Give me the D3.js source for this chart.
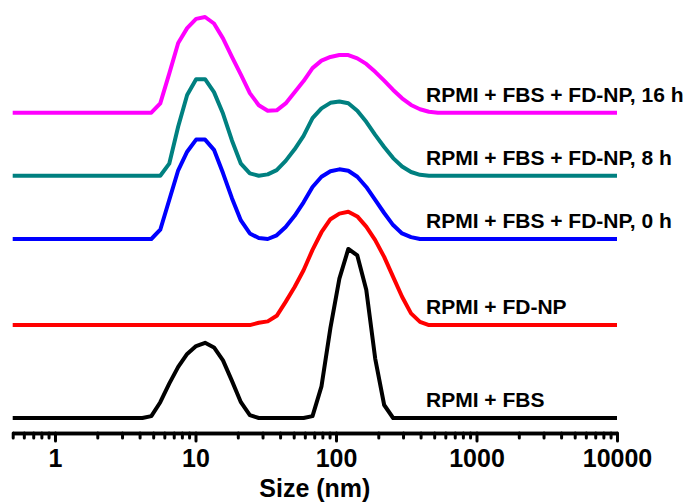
<!DOCTYPE html>
<html>
<head>
<meta charset="utf-8">
<script src="https://cdn.jsdelivr.net/npm/d3@7"></script>
<style>
  body { margin: 0; background: #fff; }
  text { font-family: Arial, "Liberation Sans", sans-serif; font-weight: bold; fill: #000; }
</style>
</head>
<body>
<svg id="chart" width="689" height="504"></svg>
<script>
// Zetasizer size bins (nm)
const sizes = [0.4, 0.4632, 0.5365, 0.6213, 0.7195, 0.8332, 0.9649, 1.117, 1.294, 1.499,
  1.736, 2.01, 2.328, 2.696, 3.122, 3.615, 4.187, 4.849, 5.615, 6.503,
  7.531, 8.721, 10.1, 11.7, 13.54, 15.69, 18.17, 21.04, 24.36, 28.21,
  32.67, 37.84, 43.82, 50.75, 58.77, 68.06, 78.82, 91.28, 105.7, 122.4,
  141.8, 164.2, 190.1, 220.2, 255.0, 295.3, 342.0, 396.1, 458.7, 531.2,
  615.1, 712.4, 825.0, 955.4, 1106, 1281, 1484, 1718, 1990, 2305,
  2669, 3091, 3580, 4145, 4801, 5560, 6439, 7456, 8635, 10000];

// intensity (%) per bin, one array per sample
const rpmiFbs = [0, 0, 0, 0, 0, 0, 0, 0, 0, 0,
  0, 0, 0, 0, 0, 0, 0, 0.2, 1.7, 3.7,
  5.5, 6.9, 7.75, 8.1, 7.6, 6.2, 4.0, 1.7, 0.3, 0,
  0, 0, 0, 0, 0, 0.2, 3.4, 9.7, 15.0, 18.2,
  17.5, 13.8, 6.4, 1.4, 0, 0, 0, 0, 0, 0,
  0, 0, 0, 0, 0, 0, 0, 0, 0, 0,
  0, 0, 0, 0, 0, 0, 0, 0, 0, 0];
const rpmiFdnp = [0, 0, 0, 0, 0, 0, 0, 0, 0, 0,
  0, 0, 0, 0, 0, 0, 0, 0, 0, 0,
  0, 0, 0, 0, 0, 0, 0, 0, 0, 0.25,
  0.4, 1.0, 2.5, 4.1, 5.9, 8.1, 10.0, 11.4, 12.0, 12.2,
  11.7, 10.6, 9.15, 7.35, 5.2, 3.05, 1.26, 0.35, 0, 0,
  0, 0, 0, 0, 0, 0, 0, 0, 0, 0,
  0, 0, 0, 0, 0, 0, 0, 0, 0, 0];
const fdnp0h = [0, 0, 0, 0, 0, 0, 0, 0, 0, 0,
  0, 0, 0, 0, 0, 0, 0, 0, 1.0, 4.2,
  7.4, 9.4, 10.7, 10.7, 9.6, 7.1, 4.4, 2.0, 0.6, 0.1,
  0, 0.4, 1.3, 2.5, 3.95, 5.6, 6.7, 7.3, 7.5, 7.35,
  6.7, 5.6, 4.2, 2.8, 1.5, 0.6, 0.2, 0, 0, 0,
  0, 0, 0, 0, 0, 0, 0, 0, 0, 0,
  0, 0, 0, 0, 0, 0, 0, 0, 0, 0];
const fdnp8h = [0, 0, 0, 0, 0, 0, 0, 0, 0, 0,
  0, 0, 0, 0, 0, 0, 0, 0, 0, 1.3,
  5.3, 8.7, 10.4, 10.4, 9.0, 6.7, 3.8, 1.3, 0.25, 0,
  0.15, 0.6, 1.6, 2.85, 4.3, 6.2, 7.25, 7.85, 8.0, 7.8,
  7.0, 5.8, 4.4, 3.1, 1.9, 1.0, 0.4, 0.1, 0, 0,
  0, 0, 0, 0, 0, 0, 0, 0, 0, 0,
  0, 0, 0, 0, 0, 0, 0, 0, 0, 0];
const fdnp16h = [0, 0, 0, 0, 0, 0, 0, 0, 0, 0,
  0, 0, 0, 0, 0, 0, 0, 0, 1.0, 4.2,
  7.5, 9.1, 10.1, 10.3, 9.6, 8.0, 6.0, 4.1, 2.1, 0.8,
  0.2, 0.25, 1.0, 2.2, 3.4, 4.8, 5.6, 6.0, 6.2, 6.2,
  5.85, 5.25, 4.4, 3.45, 2.45, 1.55, 0.83, 0.37, 0.1, 0,
  0, 0, 0, 0, 0, 0, 0, 0, 0, 0,
  0, 0, 0, 0, 0, 0, 0, 0, 0, 0];

const seriesNames = ['RPMI + FBS', 'RPMI + FD-NP', 'RPMI + FBS + FD-NP, 0 h',
  'RPMI + FBS + FD-NP, 8 h', 'RPMI + FBS + FD-NP, 16 h'];
const seriesValues = [rpmiFbs, rpmiFdnp, fdnp0h, fdnp8h, fdnp16h];
const seriesColors = ['#000000', '#ff0000', '#0000ff', '#008080', '#ff00ff'];
const offsets = [0, 10, 19.27, 26.08, 32.87];   // vertical stacking offsets

const majorTicks = [1, 10, 100, 1000, 10000];

const svg = d3.select('#chart');

const x = d3.scaleLog().domain([0.5, 10000]).range([12.7, 617]);
const y = d3.scaleLinear().domain([0, 45]).range([418, 0]);

svg.append('defs').append('clipPath').attr('id', 'plot-clip')
  .append('rect')
  .attr('x', x(0.5)).attr('y', 0)
  .attr('width', x(10000) - x(0.5)).attr('height', 432);

// curves
const line = d3.line()
  .x(d => x(d.size))
  .y(d => y(d.value));

const series = seriesValues.map((vals, i) => ({
  name: seriesNames[i],
  color: seriesColors[i],
  offset: offsets[i],
  points: vals.map((v, j) => ({ size: sizes[j], value: v + offsets[i] }))
}));

svg.append('g')
  .attr('clip-path', 'url(#plot-clip)')
  .selectAll('path')
  .data(series)
  .enter()
  .append('path')
  .attr('d', d => line(d.points))
  .style('fill', 'none')
  .style('stroke', d => d.color)
  .style('stroke-width', 4)
  .style('stroke-linejoin', 'round');

// labels
svg.append('g')
  .selectAll('text')
  .data(series)
  .enter()
  .append('text')
  .attr('x', 426)
  .attr('y', d => y(d.offset) - 11)
  .style('font-size', '21px')
  .text(d => d.name);

// x axis: minor ticks
const minorTicks = x.ticks().filter(t => majorTicks.indexOf(t) < 0);

const minorAxis = svg.append('g')
  .attr('transform', 'translate(0,433)')
  .call(d3.axisBottom(x).tickValues(minorTicks).tickSize(5).tickSizeOuter(0).tickFormat(''));

const majorAxis = svg.append('g')
  .attr('transform', 'translate(0,433)')
  .call(d3.axisBottom(x).tickValues(majorTicks).tickSize(8).tickSizeOuter(0)
    .tickPadding(8).tickFormat(d3.format('d')));

[minorAxis, majorAxis].forEach(g => {
  g.select('.domain').style('stroke', '#000').style('stroke-width', 3.5);
  g.selectAll('.tick line').style('stroke', '#000').style('stroke-width', 3).style('stroke-linecap', 'round');
});
majorAxis.selectAll('.tick text')
  .style('font-size', '25px')
  .style('font-family', 'Arial, "Liberation Sans", sans-serif')
  .style('font-weight', 'bold')
  .attr('fill', '#000');

svg.append('text')
  .attr('x', (x(0.5) + x(10000)) / 2)
  .attr('y', 497)
  .attr('text-anchor', 'middle')
  .style('font-size', '25px')
  .text('Size (nm)');
</script>
</body>
</html>
